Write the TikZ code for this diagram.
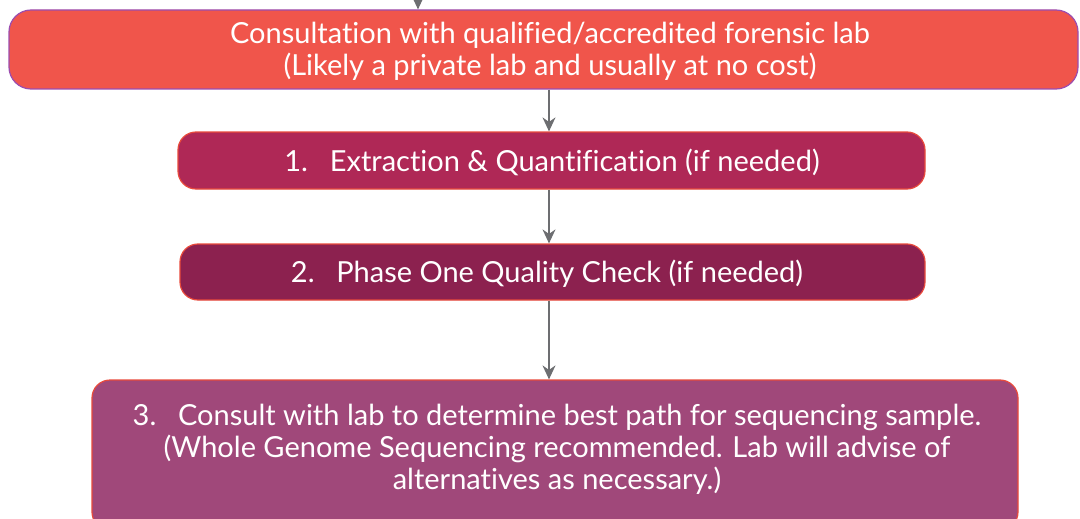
\documentclass[tikz,border=0pt]{standalone}
\usepackage{fontspec}
\setmainfont[Ligatures=NoCommon]{Lato}
\usetikzlibrary{arrows.meta}
\definecolor{topfill}{HTML}{F0554B}
\definecolor{topedge}{HTML}{9B4DB0}
\definecolor{onefill}{HTML}{AF2856}
\definecolor{twofill}{HTML}{8C214F}
\definecolor{threefill}{HTML}{A0487A}
\definecolor{boxedge}{HTML}{E84A3C}
\definecolor{arrowgray}{HTML}{6D6E71}
\tikzset{
  stepbox/.style={rectangle, rounded corners=18pt, draw=boxedge, line width=1.2pt,
    text=white, align=center, inner sep=0pt},
  steptext/.style={text=white, align=center, inner sep=0pt,
    font=\fontsize{29}{32}\selectfont},
  arr/.style={draw=arrowgray, line width=1.3pt, -{Stealth[length=14pt,width=13pt]}}
}
\begin{document}
\begin{tikzpicture}[x=1pt,y=-1pt]
\useasboundingbox (0,0) rectangle (1080,519);
\begin{scope}
\clip (0,0) rectangle (1080,519);
\node[stepbox, fill=topfill, draw=topedge, rounded corners=22pt,
  minimum width=1069pt, minimum height=79pt] (top) at (543.5,49.5) {};
\node[steptext] (t0) at (550,51)
  {Consultation with qualified/accredited forensic lab\\(Likely a private lab and usually at no cost)};
\node[stepbox, fill=onefill, minimum width=747pt, minimum height=57pt] (b1) at (551.5,160.5) {};
\node[steptext] (t1) at (552,162)
  {1.\hspace{0.75em}Extraction \& Quantification (if needed)};
\node[stepbox, fill=twofill, minimum width=745pt, minimum height=56pt] (b2) at (552.5,272) {};
\node[steptext] (t2) at (547,274)
  {2.\hspace{0.75em}Phase One Quality Check (if needed)};
\node[stepbox, fill=threefill, minimum width=926pt, minimum height=150pt] (b3) at (555,455) {};
\node[steptext] (t3) at (557,449)
  {3.\hspace{0.75em}Consult with lab to determine best path for sequencing sample.\\
   (Whole Genome Sequencing recommended. Lab will advise of\\
   alternatives as necessary.)};
\coordinate (a0) at (418,-10);
\coordinate (ax) at (549,0);
\draw[arr] (a0) -- (a0 |- top.north);
\draw[arr] (top.south -| ax) -- (b1.north -| ax);
\draw[arr] (b1.south -| ax) -- (b2.north -| ax);
\draw[arr] (b2.south -| ax) -- (b3.north -| ax);
\end{scope}
\end{tikzpicture}
\end{document}
